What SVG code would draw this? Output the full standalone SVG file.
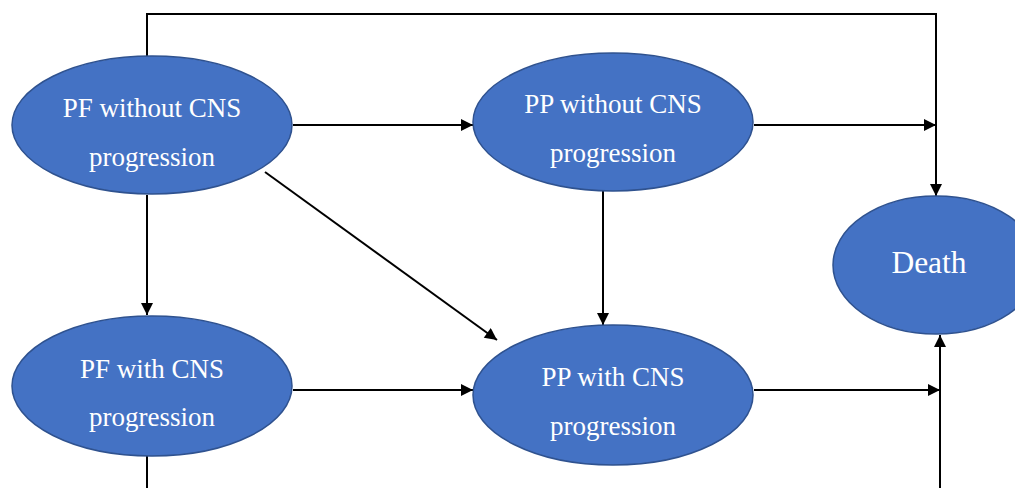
<svg xmlns="http://www.w3.org/2000/svg" width="1015" height="488" viewBox="0 0 1015 488">
<style>
.n{fill:#4472C4;stroke:#2F528F;stroke-width:1.5}
.t{fill:#fff;font-family:"Liberation Serif","Times New Roman",serif;font-size:27px;text-anchor:middle}
.d{font-size:31.5px}
.c{fill:none;stroke:#000;stroke-width:2}
</style>
<defs>
<marker id="a" viewBox="0 0 10 10" refX="10" refY="5" markerWidth="6.5" markerHeight="6" orient="auto" markerUnits="strokeWidth"><path d="M0,0 L10,5 L0,10 z" fill="#000"/></marker>
</defs>
<rect width="1015" height="488" fill="#fff"/>
<g id="connectors">
<path class="c" d="M147,56 V14 H936 V196" marker-end="url(#a)"/>
<path class="c" d="M293,125 H473" marker-end="url(#a)"/>
<path class="c" d="M754,125 H936" marker-end="url(#a)"/>
<path class="c" d="M147,195 V315" marker-end="url(#a)"/>
<path class="c" d="M265,172 L497,340" marker-end="url(#a)"/>
<path class="c" d="M603,191 V325" marker-end="url(#a)"/>
<path class="c" d="M293,390 H473" marker-end="url(#a)"/>
<path class="c" d="M754,390 H940" marker-end="url(#a)"/>
<path class="c" d="M940,488 V335" marker-end="url(#a)"/>
<path class="c" d="M147,456 V488"/>
</g>
<g id="pf-without">
<ellipse class="n" cx="152" cy="125" rx="140" ry="69"/>
<text class="t" x="152" y="117">PF without CNS</text>
<text class="t" x="152" y="166">progression</text>
</g>
<g id="pp-without">
<ellipse class="n" cx="613" cy="122" rx="140" ry="69"/>
<text class="t" x="613" y="113">PP without CNS</text>
<text class="t" x="613" y="162">progression</text>
</g>
<g id="death">
<ellipse class="n" cx="936" cy="265" rx="103" ry="69"/>
<text class="t d" x="929" y="273">Death</text>
</g>
<g id="pf-with">
<ellipse class="n" cx="152" cy="386" rx="140" ry="70"/>
<text class="t" x="152" y="378">PF with CNS</text>
<text class="t" x="152" y="426">progression</text>
</g>
<g id="pp-with">
<ellipse class="n" cx="613" cy="395" rx="140" ry="70"/>
<text class="t" x="613" y="386">PP with CNS</text>
<text class="t" x="613" y="435">progression</text>
</g>
</svg>
